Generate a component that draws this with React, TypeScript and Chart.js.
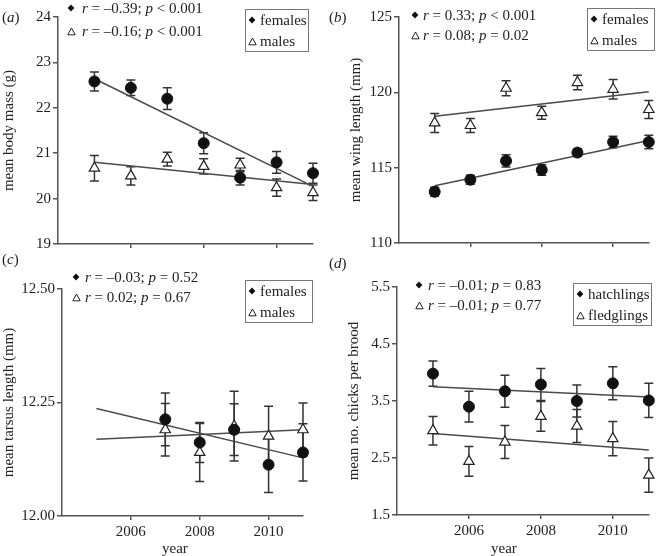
import React, { useEffect, useRef } from "react";
import { Chart, registerables } from "chart.js";

Chart.register(...registerables);

const FONT = '"Liberation Serif", "Times New Roman", serif';
const INK = "#222";
const AXIS = "#555";

// shared x values
const years = [2005, 2006, 2007, 2008, 2009, 2010, 2011];
const tarsusYears = [2007, 2008, 2009, 2010, 2011];
const fitYears = [2005, 2011];
const xTickYears = [2006, 2008, 2010];

// (a) mean body mass (g)
const massFemales = [22.58, 22.44, 22.2, 21.22, 20.46, 20.8, 20.56];
const massFemalesErr = [0.21, 0.17, 0.24, 0.23, 0.16, 0.24, 0.22];
const massMales = [20.67, 20.5, 20.87, 20.71, 20.74, 20.24, 20.13];
const massMalesErr = [0.28, 0.2, 0.15, 0.17, 0.15, 0.19, 0.17];
const massFitFemales = [22.64, 20.27];
const massFitMales = [20.8, 20.31];
const massTicks = [19, 20, 21, 22, 23, 24];

// (b) mean wing length (mm)
const wingFemales = [113.4, 114.2, 115.45, 114.85, 116.0, 116.7, 116.7];
const wingFemalesErr = [0.3, 0.3, 0.4, 0.35, 0.25, 0.38, 0.45];
const wingMales = [117.97, 117.8, 120.27, 118.65, 120.65, 120.2, 118.86];
const wingMalesErr = [0.63, 0.47, 0.5, 0.43, 0.48, 0.65, 0.6];
const wingFitFemales = [113.8, 116.8];
const wingFitMales = [118.42, 120.04];
const wingTicks = [110, 115, 120, 125];

// (c) mean tarsus length (mm)
const tarsusFemales = [12.213, 12.162, 12.19, 12.113, 12.14];
const tarsusFemalesErr = [0.058, 0.044, 0.057, 0.061, 0.063];
const tarsusMales = [12.19, 12.14, 12.198, 12.176, 12.19];
const tarsusMalesErr = [0.058, 0.064, 0.077, 0.066, 0.059];
const tarsusFitFemales = [12.237, 12.128];
const tarsusFitMales = [12.169, 12.19];
const tarsusTicks = [12.0, 12.25, 12.5];

// (d) mean no. chicks per brood
const hatchlings = [3.98, 3.4, 3.67, 3.79, 3.5, 3.81, 3.51];
const hatchlingsErr = [0.22, 0.27, 0.28, 0.28, 0.28, 0.29, 0.3];
const fledglings = [2.98, 2.44, 2.78, 3.23, 3.06, 2.84, 2.2];
const fledglingsErr = [0.25, 0.26, 0.29, 0.26, 0.29, 0.3, 0.3];
const broodFitHatch = [3.75, 3.57];
const broodFitFledge = [2.93, 2.64];
const broodTicks = [1.5, 2.5, 3.5, 4.5, 5.5];

// statistics text
const statsA = [["–0.39", "< 0.001"], ["–0.16", "< 0.001"]];
const statsB = [["0.33", "< 0.001"], ["0.08", "= 0.02"]];
const statsC = [["–0.03", "= 0.52"], ["0.02", "= 0.67"]];
const statsD = [["–0.01", "= 0.83"], ["–0.01", "= 0.77"]];

const errorBars = {
  id: "errorBars",
  beforeDatasetsDraw(chart: any) {
    const { ctx, scales } = chart;
    const xs = scales.x;
    const ys = scales.y;
    ctx.save();
    ctx.strokeStyle = "#333";
    ctx.lineWidth = 1.5;
    chart.data.datasets.forEach((ds: any) => {
      if (!ds.errors) return;
      ds.data.forEach((pt: any, i: number) => {
        const e = ds.errors[i];
        const px = xs.getPixelForValue(pt.x);
        const y1 = ys.getPixelForValue(pt.y + e);
        const y2 = ys.getPixelForValue(pt.y - e);
        ctx.beginPath();
        ctx.moveTo(px, y1);
        ctx.lineTo(px, y2);
        ctx.moveTo(px - 4.5, y1);
        ctx.lineTo(px + 4.5, y1);
        ctx.moveTo(px - 4.5, y2);
        ctx.lineTo(px + 4.5, y2);
        ctx.stroke();
      });
    });
    ctx.restore();
  },
};

type PanelProps = {
  left: number;
  top: number;
  width: number;
  height: number;
  padTop: number;
  padRight: number;
  yAxisWidth: number;
  xAxisHeight: number;
  yMin: number;
  yMax: number;
  yTicks: number[];
  yDecimals: number;
  yTitle: string;
  showXLabels: boolean;
  xs: number[];
  s1: number[];
  e1: number[];
  s2: number[];
  e2: number[];
  f1: number[];
  f2: number[];
  n1: string;
  n2: string;
};

function Panel(p: PanelProps) {
  const ref = useRef<HTMLCanvasElement>(null);
  useEffect(() => {
    const tickFont = { family: FONT, size: 15 };
    const toPts = (xs: number[], ys: number[]) => xs.map((x, i) => ({ x, y: ys[i] }));
    const chart = new Chart(ref.current as HTMLCanvasElement, {
      type: "scatter",
      data: {
        datasets: [
          {
            label: p.n1,
            data: toPts(p.xs, p.s1),
            errors: p.e1,
            pointStyle: "circle",
            pointRadius: 5.5,
            backgroundColor: "#111",
            borderColor: "#111",
            borderWidth: 1,
            clip: false,
          } as any,
          {
            label: p.n2,
            data: toPts(p.xs, p.s2),
            errors: p.e2,
            pointStyle: "triangle",
            pointRadius: 6,
            backgroundColor: "#fff",
            borderColor: "#222",
            borderWidth: 1.2,
            clip: false,
          } as any,
          {
            label: p.n1 + " fit",
            data: toPts(fitYears, p.f1),
            showLine: true,
            pointRadius: 0,
            borderColor: "#4a4a4a",
            borderWidth: 1.5,
            clip: false,
          } as any,
          {
            label: p.n2 + " fit",
            data: toPts(fitYears, p.f2),
            showLine: true,
            pointRadius: 0,
            borderColor: "#4a4a4a",
            borderWidth: 1.5,
            clip: false,
          } as any,
        ],
      },
      options: {
        animation: false,
        responsive: false,
        maintainAspectRatio: false,
        events: [],
        layout: { padding: { top: p.padTop, right: p.padRight, bottom: 0, left: 0 } },
        plugins: { legend: { display: false }, tooltip: { enabled: false } },
        scales: {
          x: {
            type: "linear",
            min: 2004,
            max: 2011,
            afterBuildTicks: (s: any) => {
              s.ticks = xTickYears.map((v) => ({ value: v }));
            },
            afterFit: (s: any) => {
              s.height = p.xAxisHeight;
            },
            grid: {
              display: true,
              drawOnChartArea: false,
              drawTicks: true,
              tickLength: 4,
              color: AXIS,
              lineWidth: 1.5,
            },
            border: { display: true, color: AXIS, width: 1.5 },
            ticks: {
              display: true,
              autoSkip: false,
              maxRotation: 0,
              padding: 3,
              font: tickFont,
              color: p.showXLabels ? INK : "rgba(0,0,0,0)",
              callback: (v: any) => String(v),
            },
          },
          y: {
            type: "linear",
            min: p.yMin,
            max: p.yMax,
            afterBuildTicks: (s: any) => {
              s.ticks = p.yTicks.map((v) => ({ value: v }));
            },
            afterFit: (s: any) => {
              s.width = p.yAxisWidth;
            },
            grid: {
              display: true,
              drawOnChartArea: false,
              drawTicks: true,
              tickLength: 5,
              color: AXIS,
              lineWidth: 1.5,
            },
            border: { display: true, color: AXIS, width: 1.5 },
            ticks: {
              autoSkip: false,
              padding: 2,
              font: tickFont,
              color: INK,
              callback: (v: any) => Number(v).toFixed(p.yDecimals),
            },
            title: {
              display: true,
              text: p.yTitle,
              font: { family: FONT, size: 15 },
              color: INK,
              padding: 0,
            },
          },
        },
      } as any,
      plugins: [errorBars],
    });
    return () => chart.destroy();
  }, []);
  return (
    <canvas
      ref={ref}
      width={p.width}
      height={p.height}
      style={{ position: "absolute", left: p.left, top: p.top, width: p.width, height: p.height }}
    />
  );
}

const textStyle: React.CSSProperties = {
  position: "absolute",
  fontFamily: FONT,
  fontSize: 15,
  lineHeight: "18px",
  color: INK,
  whiteSpace: "nowrap",
};

function Mark({ kind, cx, cy }: { kind: "filled" | "open"; cx: number; cy: number }) {
  if (kind === "filled") {
    return (
      <svg style={{ position: "absolute", left: cx - 4, top: cy - 4 }} width={8} height={8}>
        <path d="M4 0.6 L7.4 4 L4 7.4 L0.6 4 Z" fill="#111" />
      </svg>
    );
  }
  return (
    <svg style={{ position: "absolute", left: cx - 4.5, top: cy - 4.5 }} width={9} height={9}>
      <path d="M4.5 1 L8.2 7.8 L0.8 7.8 Z" fill="#fff" stroke="#222" strokeWidth={1} />
    </svg>
  );
}

function Stats({ mx, tx, y1, y2, stats }: { mx: number; tx: number; y1: number; y2: number; stats: string[][] }) {
  const row = (cy: number, s: string[], kind: "filled" | "open") => (
    <>
      <Mark kind={kind} cx={mx} cy={cy} />
      <span style={{ ...textStyle, left: tx, top: cy - 9 }}>
        <i>r</i> = {s[0]}; <i>p</i> {s[1]}
      </span>
    </>
  );
  return (
    <>
      {row(y1, stats[0], "filled")}
      {row(y2, stats[1], "open")}
    </>
  );
}

function Legend({
  x,
  y,
  w,
  h,
  names,
}: {
  x: number;
  y: number;
  w: number;
  h: number;
  names: string[];
}) {
  return (
    <>
      <div
        style={{
          position: "absolute",
          left: x,
          top: y,
          width: w,
          height: h,
          border: "1px solid #777",
          boxSizing: "border-box",
        }}
      />
      <Mark kind="filled" cx={x + 7} cy={y + 11} />
      <span style={{ ...textStyle, left: x + 15, top: y + 11 - 9 }}>{names[0]}</span>
      <Mark kind="open" cx={x + 7} cy={y + 32} />
      <span style={{ ...textStyle, left: x + 15, top: y + 32 - 9 }}>{names[1]}</span>
    </>
  );
}

function Label({ x, cy, letter }: { x: number; cy: number; letter: string }) {
  return (
    <span style={{ ...textStyle, left: x, top: cy - 9 }}>
      (<i>{letter}</i>)
    </span>
  );
}

export default function App() {
  return (
    <div
      style={{
        position: "absolute",
        left: 0,
        top: 0,
        width: 656,
        height: 556,
        background: "#fff",
        overflow: "hidden",
      }}
    >
      <Panel
        left={0}
        top={0}
        width={330}
        height={270}
        padTop={17}
        padRight={17}
        yAxisWidth={58}
        xAxisHeight={26}
        yMin={19}
        yMax={24}
        yTicks={massTicks}
        yDecimals={0}
        yTitle="mean body mass (g)"
        showXLabels={false}
        xs={years}
        s1={massFemales}
        e1={massFemalesErr}
        s2={massMales}
        e2={massMalesErr}
        f1={massFitFemales}
        f2={massFitMales}
        n1="females"
        n2="males"
      />
      <Panel
        left={347}
        top={0}
        width={309}
        height={270}
        padTop={17}
        padRight={7}
        yAxisWidth={52}
        xAxisHeight={27}
        yMin={110}
        yMax={125}
        yTicks={wingTicks}
        yDecimals={0}
        yTitle="mean wing length (mm)"
        showXLabels={false}
        xs={years}
        s1={wingFemales}
        e1={wingFemalesErr}
        s2={wingMales}
        e2={wingMalesErr}
        f1={wingFitFemales}
        f2={wingFitMales}
        n1="females"
        n2="males"
      />
      <Panel
        left={0}
        top={270}
        width={330}
        height={286}
        padTop={19}
        padRight={27}
        yAxisWidth={62}
        xAxisHeight={40}
        yMin={12.0}
        yMax={12.5}
        yTicks={tarsusTicks}
        yDecimals={2}
        yTitle="mean tarsus length (mm)"
        showXLabels={true}
        xs={tarsusYears}
        s1={tarsusFemales}
        e1={tarsusFemalesErr}
        s2={tarsusMales}
        e2={tarsusMalesErr}
        f1={tarsusFitFemales}
        f2={tarsusFitMales}
        n1="females"
        n2="males"
      />
      <Panel
        left={345}
        top={270}
        width={311}
        height={286}
        padTop={17}
        padRight={7}
        yAxisWidth={52}
        xAxisHeight={41}
        yMin={1.5}
        yMax={5.5}
        yTicks={broodTicks}
        yDecimals={1}
        yTitle="mean no. chicks per brood"
        showXLabels={true}
        xs={years}
        s1={hatchlings}
        e1={hatchlingsErr}
        s2={fledglings}
        e2={fledglingsErr}
        f1={broodFitHatch}
        f2={broodFitFledge}
        n1="hatchlings"
        n2="fledglings"
      />

      <Label x={2} cy={17} letter="a" />
      <Label x={329} cy={17} letter="b" />
      <Label x={2} cy={259} letter="c" />
      <Label x={329} cy={263} letter="d" />

      <Stats mx={71} tx={82} y1={8} y2={31} stats={statsA} />
      <Stats mx={415} tx={423} y1={15} y2={35} stats={statsB} />
      <Stats mx={76} tx={85} y1={277} y2={297} stats={statsC} />
      <Stats mx={419} tx={428} y1={285} y2={305} stats={statsD} />

      <Legend x={245} y={9} w={64} h={43} names={["females", "males"]} />
      <Legend x={587} y={8} w={68} h={43} names={["females", "males"]} />
      <Legend x={245} y={280} w={68} h={43} names={["females", "males"]} />
      <Legend x={573} y={283} w={79} h={43} names={["hatchlings", "fledglings"]} />

      <span style={{ ...textStyle, left: 175 - 13, top: 548 - 9 }}>year</span>
      <span style={{ ...textStyle, left: 504 - 13, top: 548 - 9 }}>year</span>
    </div>
  );
}
